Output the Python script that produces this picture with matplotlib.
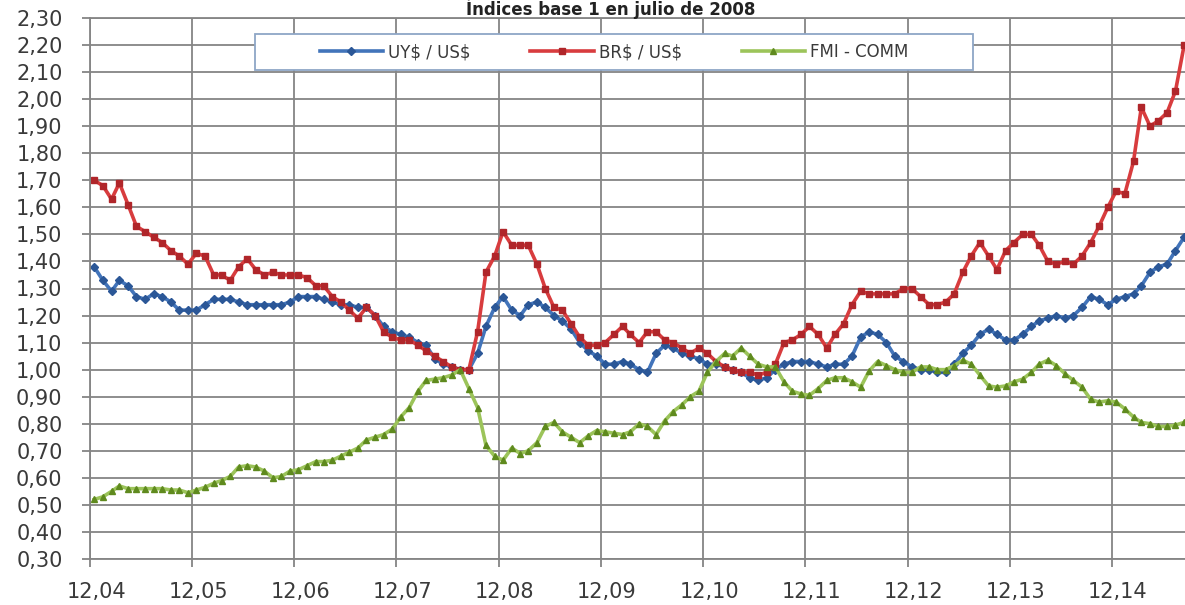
import numpy as np
import pandas as pd
import matplotlib
matplotlib.use("Agg")
import matplotlib.pyplot as plt
import matplotlib.transforms as mtransforms
from matplotlib.patches import Rectangle

# monthly index values, base 1 = July 2008, Dec 2004 .. Aug 2015
uy_usd = [1.38, 1.33, 1.29, 1.33, 1.31, 1.27, 1.26, 1.28, 1.27, 1.25,
          1.22, 1.22, 1.22, 1.24, 1.26, 1.26, 1.26, 1.25, 1.24, 1.24,
          1.24, 1.24, 1.24, 1.25, 1.27, 1.27, 1.27, 1.26, 1.25, 1.24,
          1.24, 1.23, 1.23, 1.20, 1.16, 1.14, 1.13, 1.12, 1.10, 1.09,
          1.04, 1.02, 1.01, 1.00, 1.00, 1.06, 1.16, 1.23, 1.27, 1.22,
          1.20, 1.24, 1.25, 1.23, 1.20, 1.18, 1.15, 1.10, 1.07, 1.05,
          1.02, 1.02, 1.03, 1.02, 1.00, 0.99, 1.06, 1.09, 1.08, 1.06,
          1.05, 1.04, 1.02, 1.02, 1.01, 1.00, 0.99, 0.97, 0.96, 0.97,
          1.00, 1.02, 1.03, 1.03, 1.03, 1.02, 1.01, 1.02, 1.02, 1.05,
          1.12, 1.14, 1.13, 1.10, 1.05, 1.03, 1.01, 1.00, 1.00, 0.99,
          0.99, 1.02, 1.06, 1.09, 1.13, 1.15, 1.13, 1.11, 1.11, 1.13,
          1.16, 1.18, 1.19, 1.20, 1.19, 1.20, 1.23, 1.27, 1.26, 1.24,
          1.26, 1.27, 1.28, 1.31, 1.36, 1.38, 1.39, 1.44, 1.49]

br_usd = [1.70, 1.68, 1.63, 1.69, 1.61, 1.53, 1.51, 1.49, 1.47, 1.44,
          1.42, 1.39, 1.43, 1.42, 1.35, 1.35, 1.33, 1.38, 1.41, 1.37,
          1.35, 1.36, 1.35, 1.35, 1.35, 1.34, 1.31, 1.31, 1.27, 1.25,
          1.22, 1.19, 1.23, 1.20, 1.14, 1.12, 1.11, 1.11, 1.09, 1.07,
          1.05, 1.03, 1.01, 1.00, 1.00, 1.14, 1.36, 1.42, 1.51, 1.46,
          1.46, 1.46, 1.39, 1.30, 1.23, 1.22, 1.17, 1.12, 1.09, 1.09,
          1.10, 1.13, 1.16, 1.13, 1.10, 1.14, 1.14, 1.11, 1.10, 1.08,
          1.06, 1.08, 1.06, 1.03, 1.01, 1.00, 0.99, 0.99, 0.98, 0.99,
          1.02, 1.10, 1.11, 1.13, 1.16, 1.13, 1.08, 1.13, 1.17, 1.24,
          1.29, 1.28, 1.28, 1.28, 1.28, 1.30, 1.30, 1.27, 1.24, 1.24,
          1.25, 1.28, 1.36, 1.42, 1.47, 1.42, 1.37, 1.44, 1.47, 1.50,
          1.50, 1.46, 1.40, 1.39, 1.40, 1.39, 1.42, 1.47, 1.53, 1.60,
          1.66, 1.65, 1.77, 1.97, 1.90, 1.92, 1.95, 2.03, 2.20]

fmi_comm = [0.52, 0.53, 0.55, 0.57, 0.56, 0.56, 0.56, 0.56, 0.56, 0.555,
            0.555, 0.545, 0.555, 0.565, 0.58, 0.59, 0.605, 0.64, 0.645, 0.64,
            0.625, 0.60, 0.605, 0.625, 0.63, 0.645, 0.66, 0.66, 0.665, 0.68,
            0.695, 0.71, 0.74, 0.75, 0.76, 0.78, 0.825, 0.86, 0.92, 0.96,
            0.965, 0.97, 0.98, 1.00, 0.93, 0.86, 0.72, 0.68, 0.665, 0.71,
            0.69, 0.70, 0.73, 0.79, 0.805, 0.77, 0.75, 0.73, 0.755, 0.775,
            0.77, 0.765, 0.76, 0.77, 0.80, 0.79, 0.76, 0.81, 0.845, 0.87,
            0.90, 0.92, 0.99, 1.03, 1.06, 1.05, 1.08, 1.05, 1.02, 1.01,
            1.01, 0.955, 0.92, 0.91, 0.905, 0.93, 0.96, 0.97, 0.97, 0.955,
            0.935, 0.995, 1.03, 1.015, 1.00, 0.99, 0.99, 1.01, 1.01, 1.00,
            1.00, 1.015, 1.035, 1.02, 0.98, 0.94, 0.935, 0.94, 0.955, 0.965,
            0.99, 1.02, 1.035, 1.015, 0.985, 0.96, 0.935, 0.89, 0.88, 0.885,
            0.88, 0.855, 0.825, 0.805, 0.80, 0.79, 0.79, 0.795, 0.805]

labels = ["UY\\$ / US\\$", "BR\\$ / US\\$", "FMI - COMM"]
title = "Índices base 1 en julio de 2008"

dates = pd.date_range("2004-12-01", periods=len(uy_usd), freq="MS") + pd.Timedelta(days=15)
year_ticks = pd.date_range("2004-12-01", "2014-12-01", freq="12MS")

W, H = 1185, 605
fig = plt.figure(figsize=(W / 100, H / 100), dpi=100)
ax = fig.add_axes([90 / W, (H - 559) / H, 1 - 90 / W, (559 - 18) / H])

grid_c = "#858585"
styles = [
    dict(color="#4274ba", marker="D", mfc="#2b5797", mec="#2b5797", ms=3.6),
    dict(color="#d83c3e", marker="s", mfc="#b0262a", mec="#b0262a", ms=3.8),
    dict(color="#9cc45a", marker="^", mfc="#5f8a1e", mec="#5f8a1e", ms=4.2),
]
for vals, lab, st in zip([uy_usd, br_usd, fmi_comm], labels, styles):
    ax.plot(dates, vals, lw=2.6, label=lab, solid_joinstyle="round", **st)

ax.set_ylim(0.30, 2.30)
ax.set_xlim(pd.Timestamp("2004-12-01"), pd.Timestamp("2015-08-19"))
yt = np.arange(0.30, 2.301, 0.10)
ax.set_yticks(yt)
ax.set_yticklabels([("%.2f" % v).replace(".", ",") for v in yt])
ax.set_xticks(year_ticks)
ax.set_xticklabels([d.strftime("%m,%y") for d in year_ticks])

ax.grid(True, color=grid_c, lw=1.3)
ax.set_axisbelow(True)
for s in ["left", "bottom", "top"]:
    ax.spines[s].set_color(grid_c)
    ax.spines[s].set_linewidth(1.3)
ax.spines["right"].set_visible(False)
ax.tick_params(axis="both", direction="out", length=5.8, width=1.3, color=grid_c,
               labelsize=15, labelcolor="#3a3a3a")
ax.tick_params(axis="y", pad=14)
ax.tick_params(axis="x", pad=11)

# excel-style labels sit a little right of the year gridline
shift = mtransforms.ScaledTranslation(6 / 100, 0, fig.dpi_scale_trans)
for lbl in ax.get_xticklabels():
    lbl.set_transform(lbl.get_transform() + shift)

# legend box
box = Rectangle((255 / W, 1 - 70 / H), (973 - 255) / W, 36 / H, transform=fig.transFigure,
                facecolor="white", edgecolor="#8ea6c6", lw=1.3, zorder=5)
fig.patches.append(box)
fig.legend(loc="center", bbox_to_anchor=(614 / W, 1 - 52 / H), ncol=3, frameon=False,
           fontsize=12, handlelength=3.8, handletextpad=0.3, columnspacing=3.6,
           labelcolor="#3a3a3a")

fig.text(611 / W, 1 - 15 / H, title, ha="center", va="baseline", fontsize=12,
         fontweight="bold", color="#222222")

fig.savefig("out.png", dpi=100)
